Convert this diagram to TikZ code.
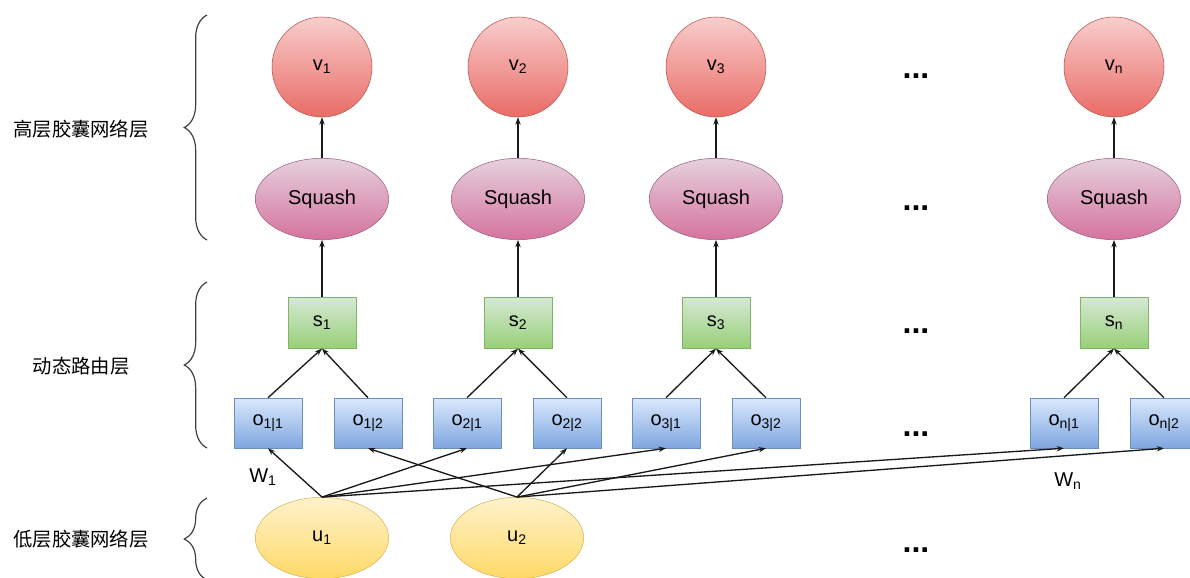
\documentclass[tikz,border=0pt]{standalone}
\usepackage{fontspec}
\setmainfont{Liberation Sans}
\newfontfamily\cjk{Noto Sans CJK SC}
\usetikzlibrary{shapes.geometric,arrows.meta,decorations.pathreplacing}
\definecolor{vline}{HTML}{B85450}
\definecolor{vtop}{HTML}{F8CECC}
\definecolor{vbot}{HTML}{EA6B66}
\definecolor{qline}{HTML}{996185}
\definecolor{qtop}{HTML}{E6D0DE}
\definecolor{qbot}{HTML}{D5739D}
\definecolor{sline}{HTML}{82B366}
\definecolor{stop}{HTML}{D5E8D4}
\definecolor{sbot}{HTML}{97D077}
\definecolor{oline}{HTML}{6C8EBF}
\definecolor{otop}{HTML}{DAE8FC}
\definecolor{obot}{HTML}{7EA6E0}
\definecolor{uline}{HTML}{D6B656}
\definecolor{utop}{HTML}{FFF2CC}
\definecolor{ubot}{HTML}{FFD966}
\newcommand{\sbs}[1]{\textsubscript{#1}}

\begin{document}
\begin{tikzpicture}[x=0.75pt,y=-0.75pt,
  every node/.style={font=\fontsize{15}{18}\selectfont},
  vcap/.style={circle,draw=vline,top color=vtop,bottom color=vbot,minimum size=75pt,inner sep=0pt},
  squash/.style={ellipse,draw=qline,top color=qtop,bottom color=qbot,minimum width=100pt,minimum height=61pt,inner sep=0pt},
  sbox/.style={rectangle,draw=sline,top color=stop,bottom color=sbot,minimum width=51pt,minimum height=38pt,inner sep=0pt},
  obox/.style={rectangle,draw=oline,top color=otop,bottom color=obot,minimum width=51pt,minimum height=37.5pt,inner sep=0pt},
  ucap/.style={ellipse,draw=uline,top color=utop,bottom color=ubot,minimum width=100pt,minimum height=61pt,inner sep=0pt},
  arr/.style={draw=black!90,line width=1pt,-{Stealth[length=5.5pt,width=4pt]}},
  brc/.style={draw=black!75,line width=0.9pt,decorate,decoration={brace,amplitude=17pt}},
  dots/.style={font=\fontsize{24}{24}\selectfont\bfseries},
  layer/.style={font=\fontsize{14.5}{17}\selectfont\cjk}]

  \useasboundingbox (0,0) rectangle (1190,578);

  % layer names and braces
  \node[layer] (high) at (81,129) {高层胶囊网络层};
  \node[layer] (route) at (81,366) {动态路由层};
  \node[layer] (low) at (81,539) {低层胶囊网络层};
  \draw[brc] (207,240) -- (207,15);
  \draw[brc] (207,448) -- (207,282);
  \draw[brc] (207,580) -- (207,498);

  % higher capsules
  \node[vcap] (v1) at (322,67) {v\sbs{1}};
  \node[vcap] (v2) at (518,67) {v\sbs{2}};
  \node[vcap] (v3) at (716,67) {v\sbs{3}};
  \node[vcap] (vn) at (1114,67) {v\sbs{n}};

  \node[squash] (q1) at (322,199) {Squash};
  \node[squash] (q2) at (518,199) {Squash};
  \node[squash] (q3) at (716,199) {Squash};
  \node[squash] (qn) at (1114,199) {Squash};

  % routing
  \node[sbox] (s1) at (322,323) {s\sbs{1}};
  \node[sbox] (s2) at (518,323) {s\sbs{2}};
  \node[sbox] (s3) at (716,323) {s\sbs{3}};
  \node[sbox] (sn) at (1114,323) {s\sbs{n}};

  \node[obox] (o11) at (268,423) {o\sbs{1|1}};
  \node[obox] (o12) at (368,423) {o\sbs{1|2}};
  \node[obox] (o21) at (467,423) {o\sbs{2|1}};
  \node[obox] (o22) at (567,423) {o\sbs{2|2}};
  \node[obox] (o31) at (666,423) {o\sbs{3|1}};
  \node[obox] (o32) at (766,423) {o\sbs{3|2}};
  \node[obox] (on1) at (1064,423) {o\sbs{n|1}};
  \node[obox] (on2) at (1164,423) {o\sbs{n|2}};

  % lower capsules
  \node[ucap] (u1) at (322,538) {u\sbs{1}};
  \node[ucap] (u2) at (517,538) {u\sbs{2}};

  \node (w1) at (263,477) {W\sbs{1}};
  \node (wn) at (1068,481) {W\sbs{n}};

  \node[dots] (d1) at (916,76) {...};
  \node[dots] (d2) at (916,208) {...};
  \node[dots] (d3) at (916,331) {...};
  \node[dots] (d4) at (916,434) {...};
  \node[dots] (d5) at (916,550) {...};

  \path[arr] (q1) -- (v1);
  \path[arr] (q2) -- (v2);
  \path[arr] (q3) -- (v3);
  \path[arr] (qn) -- (vn);
  \path[arr] (s1) -- (q1);
  \path[arr] (s2) -- (q2);
  \path[arr] (s3) -- (q3);
  \path[arr] (sn) -- (qn);
  \path[arr] (o11.north) -- (s1.south);
  \path[arr] (o12.north) -- (s1.south);
  \path[arr] (o21.north) -- (s2.south);
  \path[arr] (o22.north) -- (s2.south);
  \path[arr] (o31.north) -- (s3.south);
  \path[arr] (o32.north) -- (s3.south);
  \path[arr] (on1.north) -- (sn.south);
  \path[arr] (on2.north) -- (sn.south);

  \path[arr] (u1.north) -- (o11.south);
  \path[arr] (u1.north) -- (o21.south);
  \path[arr] (u1.north) -- (o31.south);
  \path[arr] (u1.north) -- (on1.south);
  \path[arr] (u2.north) -- (o12.south);
  \path[arr] (u2.north) -- (o22.south);
  \path[arr] (u2.north) -- (o32.south);
  \path[arr] (u2.north) -- (on2.south);

\end{tikzpicture}
\end{document}
